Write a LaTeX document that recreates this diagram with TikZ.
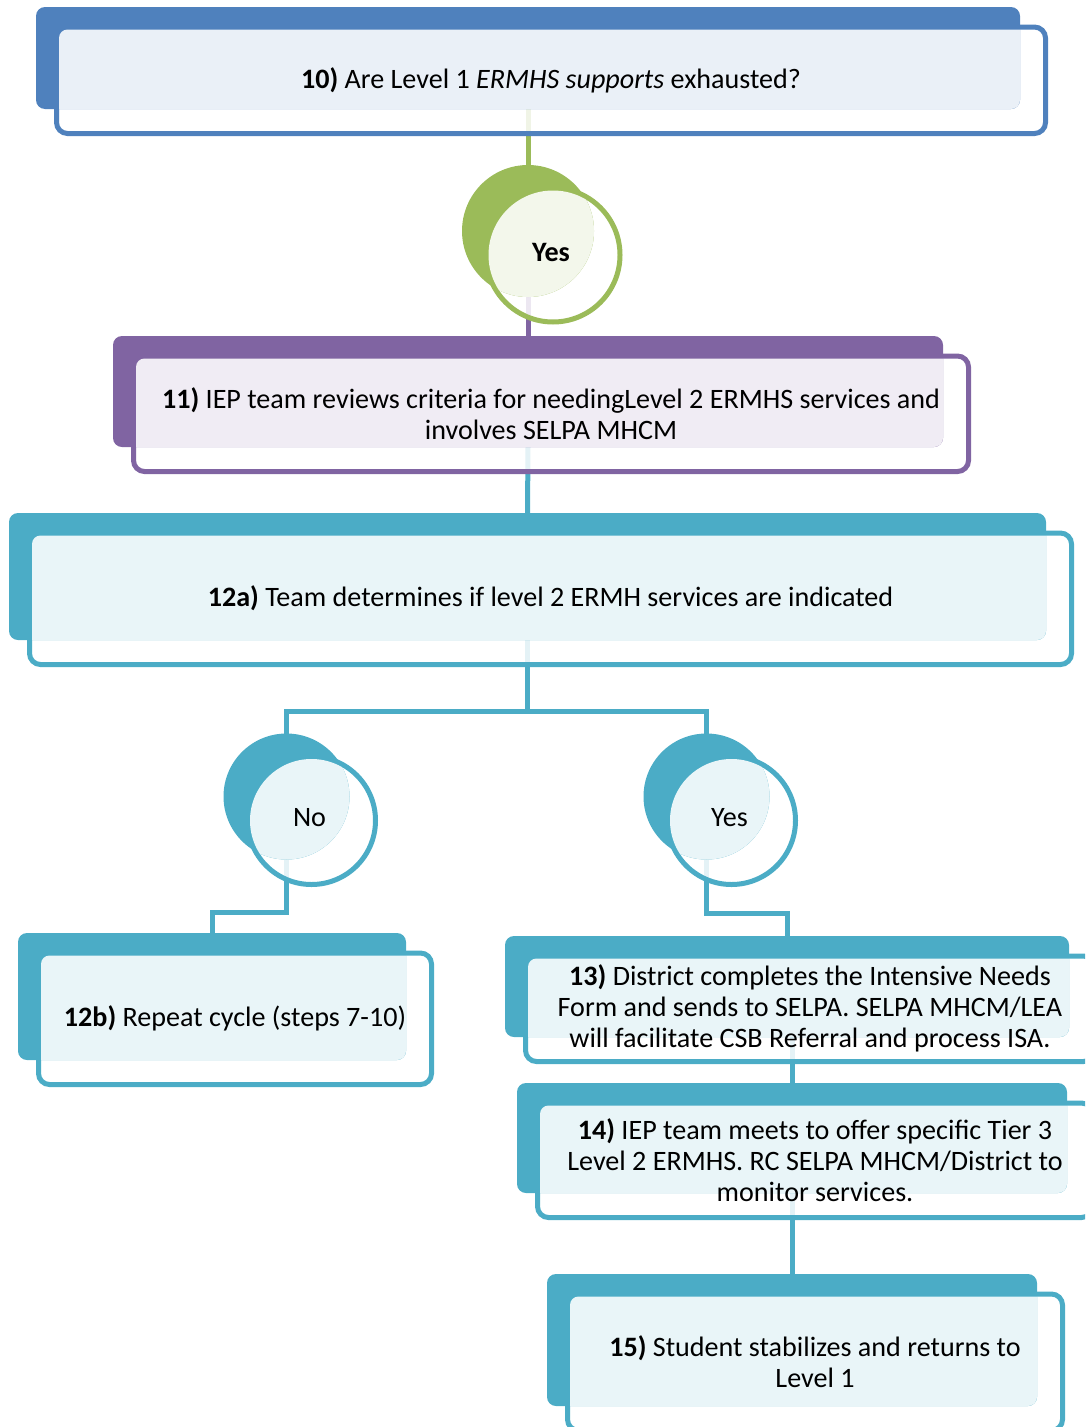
\documentclass[tikz,border=0pt]{standalone}
\usepackage{fontspec}
\setmainfont{Carlito}
\usetikzlibrary{backgrounds}

\definecolor{cblue}{HTML}{4F81BD}
\definecolor{cgreen}{HTML}{9BBB59}
\definecolor{cpurple}{HTML}{8064A2}
\definecolor{cteal}{HTML}{4BACC6}

\tikzset{
  rimline/.style={line width=5pt, fill=white, fill opacity=.85},
  backbox/.style={rectangle, rounded corners=9pt, inner sep=0pt, outer sep=0pt, draw=none},
  backdisc/.style={circle, inner sep=0pt, outer sep=0pt, draw=none},
  cardtext/.style={font=\fontsize{28.1}{31}\selectfont, align=center, text=black, inner sep=0pt},
  link/.style={line width=5pt},
}

% A step card: solid back panel (x1,y1)-(x2,y2), an outlined frame shifted
% down-right, and a pale tint where the two overlap.
\newcommand\stepcard[6]{%
  \draw[rimline, draw=#2, rounded corners=11pt] (#3+20.5,#4+20) rectangle (#5+25.5,#6+24.5);
  \node[backbox, fill=#2, minimum width=#5pt-#3pt, minimum height=#6pt-#4pt]
    (#1) at ({(#3+#5)/2},{(#4+#6)/2}) {};
  \begin{scope}
    \clip[rounded corners=8.5pt] (#3+23,#4+22.5) rectangle (#5+23,#6+22);
    \fill[#2!12, rounded corners=9pt] (#3,#4) rectangle (#5,#6);
  \end{scope}
  \coordinate (#1c) at ({(#3+#5)/2+23},{(#4+#6)/2+22});
}

% A decision disc: solid back disc centred at (cx,cy), outlined ring shifted
% down-right, pale tint in the overlap.
\newcommand\decisiondisc[5]{%
  \draw[rimline, draw=#2] (#3+25,#4+24) circle[radius=#5pt+1pt];
  \node[backdisc, fill=#2, minimum size=2*#5pt] (#1) at (#3,#4) {};
  \begin{scope}
    \clip (#3+25,#4+24) circle[radius=#5pt-1.5pt];
    \fill[#2!12] (#3,#4) circle[radius=#5pt];
  \end{scope}
  \coordinate (#1c) at (#3+23,#4+21.5);
}

\begin{document}
\begin{tikzpicture}[x=1pt,y=-1pt]
\useasboundingbox (0,0) rectangle (1085,1427);
\clip (0,0) rectangle (1085,1427);

\stepcard{d10}{cblue}{36}{7}{1020}{109}
\decisiondisc{yes1}{cgreen}{528}{231}{66}
\stepcard{d11}{cpurple}{113}{336}{943}{447}
\stepcard{d12a}{cteal}{9}{513}{1046}{640}
\decisiondisc{no}{cteal}{286.5}{796.5}{63}
\decisiondisc{yesb}{cteal}{706.5}{796.5}{63}
\stepcard{d12b}{cteal}{18}{933}{406}{1060}
\stepcard{d13}{cteal}{505}{936}{1069}{1037}
\stepcard{d14}{cteal}{517}{1083}{1067}{1193}
\stepcard{d15}{cteal}{547}{1274}{1037}{1406}

\node[cardtext] (t10) at (d10c) {\textbf{10)} Are Level 1 \textit{ERMHS supports} exhausted?};
\node[cardtext] (tyes1) at (yes1c) {\textbf{Yes}};
\node[cardtext] (t11) at (d11c) {\textbf{11)} IEP team reviews criteria for needingLevel 2 ERMHS services and\\involves SELPA MHCM};
\node[cardtext] (t12a) at (d12ac) {\textbf{12a)} Team determines if level 2 ERMH services are indicated};
\node[cardtext] (tno) at (noc) {No};
\node[cardtext] (tyesb) at (yesbc) {Yes};
\node[cardtext] (t12b) at (d12bc) {\textbf{12b)} Repeat cycle (steps 7-10)};
\node[cardtext] (t13) at (d13c) {\textbf{13)} District completes the Intensive Needs\\Form and sends to SELPA. SELPA MHCM/LEA\\will facilitate CSB Referral and process ISA.};
\node[cardtext] (t14) at (d14c) {\textbf{14)} IEP team meets to offer specific Tier 3\\Level 2 ERMHS. RC SELPA MHCM/District to\\monitor services.};
\node[cardtext] (t15) at (d15c) {\textbf{15)} Student stabilizes and returns to\\Level 1};

\begin{pgfonlayer}{background}
  \draw[link, cgreen] (d10.south) -- (yes1.north);
  \draw[link, cpurple] (yes1.south) -- (d11.north);
  \draw[link, cteal] (d11.south) -- (d12a.north);
  \coordinate (fork) at (527.5,711);
  \draw[link, cteal] (d12a.south) -- (fork);
  \draw[link, cteal] (no.north) |- (fork) -| (yesb.north);
  \coordinate (nobend) at (286.5,912);
  \draw[link, cteal] (no.south) -- (nobend) -| (d12b.north);
  \coordinate (yesbend) at (706.5,913);
  \draw[link, cteal] (yesb.south) -- (yesbend) -| (d13.north);
  \draw[link, cteal] (d13.south -| d14.north) -- (d14.north);
  \draw[link, cteal] (d14.south) -- (d15.north);
\end{pgfonlayer}
\end{tikzpicture}
\end{document}
